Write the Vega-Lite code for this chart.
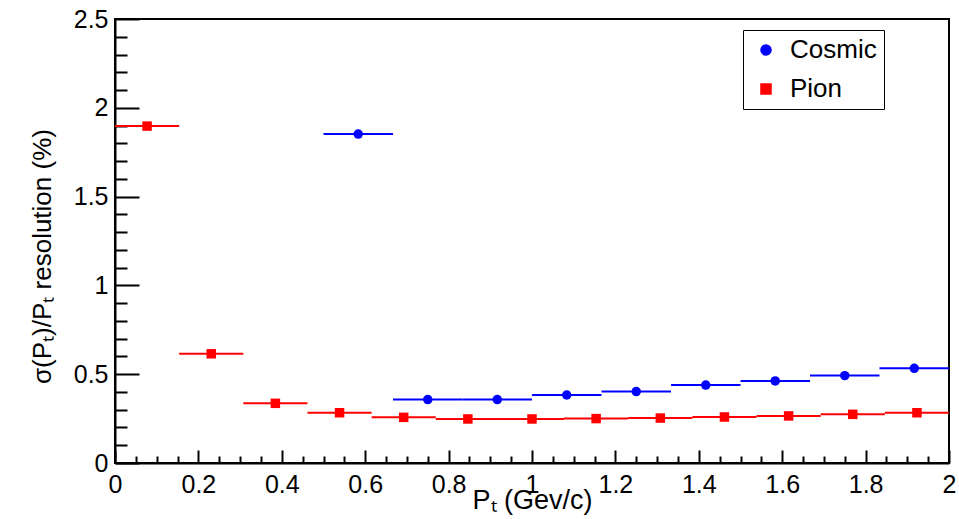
{
  "$schema": "https://vega.github.io/schema/vega-lite/v6.json",
  "width": 834,
  "height": 444,
  "autosize": {"type": "none"},
  "padding": {"left": 115, "top": 19, "right": 10, "bottom": 56},
  "background": "white",
  "title": {
    "text": "docs.belle2.org/record/2012",
    "anchor": "start",
    "frame": "group",
    "font": "Liberation Sans",
    "fontSize": 49,
    "fontWeight": "normal",
    "color": "#2244ff",
    "baseline": "bottom",
    "offset": -26,
    "dx": 5
  },
  "config": {
    "font": "Liberation Sans",
    "view": {"stroke": "black", "strokeWidth": 2},
    "axis": {
      "labelFont": "Liberation Sans",
      "titleFont": "Liberation Sans",
      "labelColor": "black",
      "titleColor": "black",
      "domainColor": "black",
      "tickColor": "black",
      "domainWidth": 2,
      "tickWidth": 2,
      "grid": false,
      "labelFontSize": 25,
      "titleFontSize": 25,
      "titleFontWeight": "normal",
      "labelFlush": false,
      "labelOverlap": false
    },
    "legend": {
      "labelFont": "Liberation Sans",
      "labelFontSize": 26,
      "labelColor": "black"
    }
  },
  "data": {
    "values": [
      {"series": "Pion", "pt": 0.0769, "lo": 0.0, "hi": 0.1538, "res": 1.897},
      {"series": "Pion", "pt": 0.2308, "lo": 0.1538, "hi": 0.3077, "res": 0.615},
      {"series": "Pion", "pt": 0.3846, "lo": 0.3077, "hi": 0.4615, "res": 0.336},
      {"series": "Pion", "pt": 0.5385, "lo": 0.4615, "hi": 0.6154, "res": 0.283},
      {"series": "Pion", "pt": 0.6923, "lo": 0.6154, "hi": 0.7692, "res": 0.257},
      {"series": "Pion", "pt": 0.8462, "lo": 0.7692, "hi": 0.9231, "res": 0.248},
      {"series": "Pion", "pt": 1.0, "lo": 0.9231, "hi": 1.0769, "res": 0.248},
      {"series": "Pion", "pt": 1.1538, "lo": 1.0769, "hi": 1.2308, "res": 0.25},
      {"series": "Pion", "pt": 1.3077, "lo": 1.2308, "hi": 1.3846, "res": 0.253},
      {"series": "Pion", "pt": 1.4615, "lo": 1.3846, "hi": 1.5385, "res": 0.259},
      {"series": "Pion", "pt": 1.6154, "lo": 1.5385, "hi": 1.6923, "res": 0.265},
      {"series": "Pion", "pt": 1.7692, "lo": 1.6923, "hi": 1.8462, "res": 0.274},
      {"series": "Pion", "pt": 1.9231, "lo": 1.8462, "hi": 2.0, "res": 0.283},
      {"series": "Cosmic", "pt": 0.5833, "lo": 0.5, "hi": 0.6667, "res": 1.852},
      {"series": "Cosmic", "pt": 0.75, "lo": 0.6667, "hi": 0.8333, "res": 0.357},
      {"series": "Cosmic", "pt": 0.9167, "lo": 0.8333, "hi": 1.0, "res": 0.357},
      {"series": "Cosmic", "pt": 1.0833, "lo": 1.0, "hi": 1.1667, "res": 0.383},
      {"series": "Cosmic", "pt": 1.25, "lo": 1.1667, "hi": 1.3333, "res": 0.402},
      {"series": "Cosmic", "pt": 1.4167, "lo": 1.3333, "hi": 1.5, "res": 0.439},
      {"series": "Cosmic", "pt": 1.5833, "lo": 1.5, "hi": 1.6667, "res": 0.462},
      {"series": "Cosmic", "pt": 1.75, "lo": 1.6667, "hi": 1.8333, "res": 0.492},
      {"series": "Cosmic", "pt": 1.9167, "lo": 1.8333, "hi": 2.0, "res": 0.533}
    ]
  },
  "layer": [
    {
      "mark": {"type": "rule", "strokeWidth": 2},
      "encoding": {
        "x": {
          "field": "lo",
          "type": "quantitative",
          "scale": {"domain": [0, 2], "nice": false, "zero": false},
          "axis": {
            "orient": "bottom",
            "values": [0, 0.2, 0.4, 0.6, 0.8, 1, 1.2, 1.4, 1.6, 1.8, 2],
            "format": "~g",
            "tickSize": -13,
            "labelPadding": 22,
            "title": "Pₜ (Gev/c)",
            "titleFontSize": 27,
            "titlePadding": -10
          }
        },
        "x2": {"field": "hi"},
        "y": {
          "field": "res",
          "type": "quantitative",
          "scale": {"domain": [0, 2.5], "nice": false},
          "axis": {
            "orient": "left",
            "values": [0, 0.5, 1, 1.5, 2, 2.5],
            "format": "~g",
            "tickSize": -24,
            "labelPadding": 31,
            "title": "σ(Pₜ)/Pₜ resolution (%)",
            "titleFontSize": 26,
            "titlePadding": 18,
            "titleY": 237
          }
        },
        "color": {
          "field": "series",
          "type": "nominal",
          "scale": {"domain": ["Cosmic", "Pion"], "range": ["#0000ff", "#ff0000"]}
        }
      }
    },
    {
      "mark": {"type": "point", "filled": true, "opacity": 1},
      "encoding": {
        "x": {
          "field": "pt",
          "type": "quantitative",
          "axis": {
            "orient": "bottom",
            "values": [0.05, 0.1, 0.15, 0.25, 0.3, 0.35, 0.45, 0.5, 0.55, 0.65, 0.7, 0.75, 0.85, 0.9, 0.95, 1.05, 1.1, 1.15, 1.25, 1.3, 1.35, 1.45, 1.5, 1.55, 1.65, 1.7, 1.75, 1.85, 1.9, 1.95],
            "labels": false,
            "domain": false,
            "title": null,
            "tickSize": -7
          }
        },
        "y": {
          "field": "res",
          "type": "quantitative",
          "axis": {
            "orient": "left",
            "values": [0.1, 0.2, 0.3, 0.4, 0.6, 0.7, 0.8, 0.9, 1.1, 1.2, 1.3, 1.4, 1.6, 1.7, 1.8, 1.9, 2.1, 2.2, 2.3, 2.4],
            "labels": false,
            "domain": false,
            "title": null,
            "tickSize": -12
          }
        },
        "color": {
          "field": "series",
          "type": "nominal",
          "legend": {
            "title": null,
            "orient": "none",
            "legendX": 628,
            "legendY": 11,
            "strokeColor": "black",
            "fillColor": "white",
            "padding": 7,
            "rowPadding": 13,
            "symbolSize": 100,
            "symbolOffset": 3,
            "labelOffset": 11,
            "labelExpr": "datum.label + '\u00a0\u00a0\u00a0\u00a0\u00a0'"
          }
        },
        "shape": {
          "field": "series",
          "type": "nominal",
          "scale": {"domain": ["Cosmic", "Pion"], "range": ["circle", "square"]},
          "legend": {
            "title": null,
            "orient": "none",
            "legendX": 628,
            "legendY": 11,
            "strokeColor": "black",
            "fillColor": "white",
            "padding": 7,
            "rowPadding": 13,
            "symbolSize": 100,
            "symbolOffset": 3,
            "labelOffset": 11,
            "labelExpr": "datum.label + '\u00a0\u00a0\u00a0\u00a0\u00a0'"
          }
        },
        "size": {"value": 90}
      }
    }
  ],
  "resolve": {"axis": {"x": "independent", "y": "independent"}}
}
